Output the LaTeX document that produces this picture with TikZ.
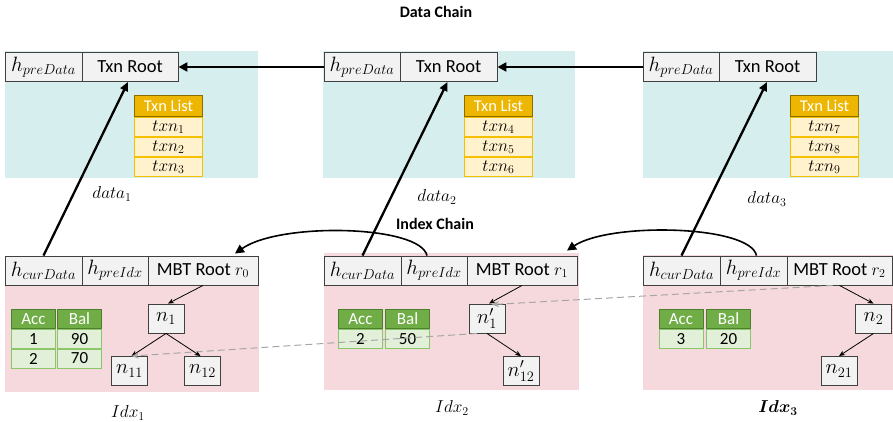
\documentclass[tikz,border=0pt]{standalone}
\usepackage{amsmath}
\usepackage{bm}
\usepackage{fontspec}
\setmainfont{Carlito}
\usetikzlibrary{arrows.meta}
\definecolor{teal0}{HTML}{D6EFEE}
\definecolor{pink0}{HTML}{F5D9DD}
\definecolor{hfill}{HTML}{F2F2F2}
\definecolor{hdraw}{HTML}{404040}
\definecolor{gold}{HTML}{EDB600}
\definecolor{golddk}{HTML}{8C6D00}
\definecolor{goldlt}{HTML}{FFF2CC}
\definecolor{goldln}{HTML}{F5C000}
\definecolor{grn}{HTML}{70AD47}
\definecolor{grndk}{HTML}{4E7F2E}
\definecolor{grnlt}{HTML}{E2F0D9}
\definecolor{grnln}{HTML}{8CC66A}
\definecolor{dash0}{HTML}{A6A6A6}
\tikzset{
  x=1pt,y=-1pt,
  hcell/.style={draw=hdraw,fill=hfill,line width=0.9pt,minimum height=29pt,inner sep=0pt,font=\fontsize{18.5}{20}\selectfont},
  hm/.style={font=\fontsize{21}{22}\selectfont},
  tnode/.style={draw=hdraw,fill=hfill,line width=0.9pt,minimum width=36pt,minimum height=29pt,inner sep=0pt,font=\fontsize{19.5}{20}\selectfont},
  txh/.style={draw=golddk,fill=gold,text=white,line width=1pt,minimum width=68pt,minimum height=21pt,inner sep=0pt,font=\fontsize{16.5}{18}\selectfont},
  txr/.style={draw=goldln,fill=goldlt,line width=1pt,minimum width=68pt,minimum height=19.5pt,inner sep=0pt,font=\fontsize{17}{18}\selectfont},
  ach/.style={draw=grndk,fill=grn,text=white,line width=1pt,minimum width=44pt,minimum height=19.5pt,inner sep=0pt,font=\fontsize{17}{18}\selectfont},
  acr/.style={draw=grnln,fill=grnlt,line width=1pt,minimum width=44pt,minimum height=19pt,inner sep=0pt,font=\fontsize{17}{18}\selectfont},
  lbl/.style={inner sep=0pt,font=\fontsize{17}{18}\selectfont},
  ttl/.style={inner sep=0pt,font=\bfseries\fontsize{16}{18}\selectfont},
  bigarr/.style={line width=2.6pt,-{Triangle[length=9pt,width=9pt]}},
  uparr/.style={line width=2.3pt,-{Triangle[length=9pt,width=8pt]}},
  curvarr/.style={line width=1.6pt,-{Triangle[length=9pt,width=9pt]}},
  tarr/.style={line width=0.8pt,-{Stealth[length=6pt,width=5pt]}},
  darr/.style={draw=dash0,line width=1pt,dash pattern=on 7pt off 4pt,-{Stealth[length=7pt,width=6pt]}}
}
\begin{document}
\begin{tikzpicture}
\useasboundingbox (0,0) rectangle (893,422);
% backgrounds
\fill[teal0] (5,51) rectangle (258,178);
\fill[teal0] (323,51) rectangle (575,178);
\fill[teal0] (643,51) rectangle (893,178);
\fill[pink0] (5,256) rectangle (259,392);
\fill[pink0] (324,253) rectangle (579,390);
\fill[pink0] (643,255) rectangle (893,390);
% titles
\node[ttl] (tdata) at (436,12) {Data Chain};
\node[ttl] (tidx) at (435,224) {Index Chain};
% data headers
\node[hcell,hm,minimum width=77pt] (d1h) at (43.5,67) {$h_{preData}$};
\node[hcell,minimum width=96pt] (d1r) at (130,67) {Txn Root};
\node[hcell,hm,minimum width=76pt] (d2h) at (362,67) {$h_{preData}$};
\node[hcell,minimum width=97pt] (d2r) at (448.5,67) {Txn Root};
\node[hcell,hm,minimum width=76pt] (d3h) at (681,67) {$h_{preData}$};
\node[hcell,minimum width=97pt] (d3r) at (767.5,67) {Txn Root};
% txn lists
\node[txh] (l1h) at (168.5,106) {Txn List};
\node[txr] (l1a) at (168.5,127) {$txn_1$};
\node[txr] (l1b) at (168.5,147) {$txn_2$};
\node[txr] (l1c) at (168.5,167) {$txn_3$};
\node[txh] (l2h) at (498.5,106) {Txn List};
\node[txr] (l2a) at (498.5,127) {$txn_4$};
\node[txr] (l2b) at (498.5,147) {$txn_5$};
\node[txr] (l2c) at (498.5,167) {$txn_6$};
\node[txh] (l3h) at (824.5,106) {Txn List};
\node[txr] (l3a) at (824.5,127) {$txn_7$};
\node[txr] (l3b) at (824.5,147) {$txn_8$};
\node[txr] (l3c) at (824.5,167) {$txn_9$};
% data labels
\node[lbl] (dl1) at (112,194) {$data_1$};
\node[lbl] (dl2) at (437,197) {$data_2$};
\node[lbl] (dl3) at (767,199) {$data_3$};
% index headers
\node[hcell,hm,minimum width=77pt] (i1c) at (43.5,270.5) {$h_{curData}$};
\node[hcell,hm,minimum width=66pt] (i1p) at (115,270.5) {$h_{preIdx}$};
\node[hcell,minimum width=110pt] (i1r) at (203,270.5) {MBT Root $r_0$};
\node[hcell,hm,minimum width=77pt] (i2c) at (362.5,270.5) {$h_{curData}$};
\node[hcell,hm,minimum width=66pt] (i2p) at (434,270.5) {$h_{preIdx}$};
\node[hcell,minimum width=110pt] (i2r) at (522,270.5) {MBT Root $r_1$};
\node[hcell,hm,minimum width=77pt] (i3c) at (681.5,270.5) {$h_{curData}$};
\node[hcell,hm,minimum width=67pt] (i3p) at (753.5,270.5) {$h_{preIdx}$};
\node[hcell,minimum width=105pt] (i3r) at (839.5,270.5) {MBT Root $r_2$};
% acc tables
\node[ach] (a1h) at (33.5,319) {Acc};
\node[ach] (b1h) at (79.5,319) {Bal};
\node[acr] (a1a) at (33.5,339) {1};
\node[acr] (b1a) at (79.5,339) {90};
\node[acr] (a1b) at (33.5,358.5) {2};
\node[acr] (b1b) at (79.5,358.5) {70};
\node[ach] (a2h) at (360.5,319) {Acc};
\node[ach] (b2h) at (407.5,319) {Bal};
\node[acr] (a2a) at (360.5,339) {2};
\node[acr] (b2a) at (407.5,339) {50};
\node[ach] (a3h) at (681,319) {Acc};
\node[ach] (b3h) at (728.5,319) {Bal};
\node[acr] (a3a) at (681,339) {3};
\node[acr] (b3a) at (728.5,339) {20};
% tree nodes
\node[tnode] (n1) at (166,318.5) {$n_1$};
\node[tnode] (n11) at (129.5,371) {$n_{11}$};
\node[tnode] (n12) at (202.5,371) {$n_{12}$};
\node[tnode] (n1p) at (487,318.5) {$n_1'$};
\node[tnode] (n12p) at (521,371) {$n_{12}'$};
\node[tnode] (n2) at (873.5,318.5) {$n_2$};
\node[tnode] (n21) at (839,371) {$n_{21}$};
% idx labels
\node[lbl] (il1) at (128,413) {$Idx_1$};
\node[lbl] (il2) at (452,408) {$Idx_2$};
\node[lbl] (il3) at (778,408) {$\bm{Idx_3}$};
% data chain arrows
\draw[bigarr] (d2h.west) -- (d1r.east);
\draw[bigarr] (d3h.west) -- (d2r.east);
% up arrows
\draw[uparr] (i1c.north) -- ([xshift=-2pt]d1r.south);
\draw[uparr] (i2c.north) -- ([xshift=-1pt]d2r.south);
\draw[uparr] (i3c.north) -- ([xshift=-0.5pt]d3r.south);
% index chain curved arrows
\draw[curvarr] ([xshift=-7pt]i2p.north) .. controls (420,225) and (280,222) .. ([xshift=32pt,yshift=2pt]i1r.north);
\draw[curvarr] ([xshift=3pt]i3p.north) .. controls (750,225) and (610,222) .. ([xshift=45pt,yshift=5pt]i2r.north);
% tree arrows
\draw[tarr] (i1r.south) -- ([xshift=2pt]n1.north);
\draw[tarr] (n1.south) -- ([xshift=2pt]n11.north);
\draw[tarr] (n1.south) -- ([xshift=-2pt]n12.north);
\draw[tarr] (i2r.south) -- ([xshift=2pt]n1p.north);
\draw[tarr] (n1p.south) -- (n12p.north);
\draw[tarr] (i3r.south) -- (n2.north);
\draw[tarr] (n2.south) -- (n21.north);
% dashed arrows
\draw[darr] ([xshift=-10pt]n1p.south) -- ([xshift=2pt]n11.north);
\draw[darr] ([xshift=-7pt]i3r.south) -- ([xshift=5pt,yshift=-1pt]n1p.north);
\end{tikzpicture}
\end{document}
